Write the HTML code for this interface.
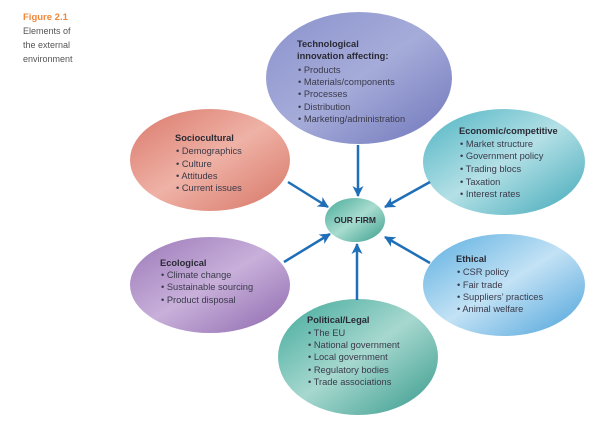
<!DOCTYPE html>
<html><head><meta charset="utf-8"><style>
body{margin:0;background:#fff;}
svg{display:block}
text{font-family:"Liberation Sans",sans-serif;font-size:9.3px;fill:#3a3a4a}
.b{font-weight:bold;fill:#2a2a35}
</style></head><body>
<svg width="602" height="423" viewBox="0 0 602 423" xmlns="http://www.w3.org/2000/svg">
<defs>
<linearGradient id="gt" x1="0" y1="0" x2="1" y2="1"><stop offset="0" stop-color="#8a92cc"/><stop offset="0.5" stop-color="#a6acd9"/><stop offset="1" stop-color="#6e76bb"/></linearGradient>
<linearGradient id="gs" x1="0" y1="0" x2="1" y2="1"><stop offset="0" stop-color="#d9786a"/><stop offset="0.5" stop-color="#efb2a6"/><stop offset="1" stop-color="#d67565"/></linearGradient>
<linearGradient id="ge" x1="0" y1="0" x2="1" y2="1"><stop offset="0" stop-color="#4cb3c2"/><stop offset="0.5" stop-color="#b4e0e6"/><stop offset="1" stop-color="#3fa8b8"/></linearGradient>
<linearGradient id="gc" x1="0" y1="0" x2="1" y2="1"><stop offset="0" stop-color="#9b78b8"/><stop offset="0.5" stop-color="#c8b0da"/><stop offset="1" stop-color="#8e68ae"/></linearGradient>
<linearGradient id="gh" x1="0" y1="0" x2="1" y2="1"><stop offset="0" stop-color="#5aaee0"/><stop offset="0.5" stop-color="#c3e2f5"/><stop offset="1" stop-color="#4ba2da"/></linearGradient>
<linearGradient id="gp" x1="0" y1="0" x2="1" y2="1"><stop offset="0" stop-color="#3fa89a"/><stop offset="0.5" stop-color="#a7d8cf"/><stop offset="1" stop-color="#35998b"/></linearGradient>
<linearGradient id="gf" x1="0" y1="0" x2="1" y2="1"><stop offset="0" stop-color="#45aa98"/><stop offset="0.5" stop-color="#a8dccf"/><stop offset="1" stop-color="#3a9e8c"/></linearGradient>
<marker id="a" markerWidth="11" markerHeight="11" refX="10" refY="5.5" orient="auto" markerUnits="userSpaceOnUse"><path d="M0,0 L11,5.5 L0,11 L3,5.5z" fill="#1f6fb8"/></marker>
</defs>
<text x="23" y="20" style="fill:#f0883a;font-weight:bold;font-size:9.5px">Figure 2.1</text>
<text x="23" y="34" style="font-size:9px;fill:#555">Elements of</text>
<text x="23" y="48" style="font-size:9px;fill:#555">the external</text>
<text x="23" y="62" style="font-size:9px;fill:#555">environment</text>

<ellipse cx="359" cy="78" rx="93" ry="66" fill="url(#gt)"/>
<ellipse cx="210" cy="160" rx="80" ry="51" fill="url(#gs)"/>
<ellipse cx="504" cy="162" rx="81" ry="53" fill="url(#ge)"/>
<ellipse cx="210" cy="285" rx="80" ry="48" fill="url(#gc)"/>
<ellipse cx="504" cy="285" rx="81" ry="51" fill="url(#gh)"/>
<ellipse cx="358" cy="357" rx="80" ry="58" fill="url(#gp)"/>
<ellipse cx="355" cy="220" rx="30" ry="22" fill="url(#gf)"/>

<g stroke="#1f6fb8" stroke-width="2.5" fill="none">
<line x1="358" y1="145" x2="358" y2="196" marker-end="url(#a)"/>
<line x1="288" y1="182" x2="328" y2="207" marker-end="url(#a)"/>
<line x1="430" y1="182" x2="385" y2="207" marker-end="url(#a)"/>
<line x1="284" y1="262" x2="330" y2="234" marker-end="url(#a)"/>
<line x1="430" y1="263" x2="385" y2="237" marker-end="url(#a)"/>
<line x1="357" y1="300" x2="357" y2="244" marker-end="url(#a)"/>
</g>
<text x="355" y="223" text-anchor="middle" class="b" style="font-size:8.5px">OUR FIRM</text>

<text x="297" y="47" class="b">Technological</text>
<text x="297" y="59" class="b">innovation affecting:</text>
<text x="298" y="73">• Products</text>
<text x="298" y="85">• Materials/components</text>
<text x="298" y="97">• Processes</text>
<text x="298" y="110">• Distribution</text>
<text x="298" y="122">• Marketing/administration</text>

<text x="175" y="141" class="b">Sociocultural</text>
<text x="176" y="154">• Demographics</text>
<text x="176" y="167">• Culture</text>
<text x="176" y="179">• Attitudes</text>
<text x="176" y="191">• Current issues</text>

<text x="459" y="134" class="b">Economic/competitive</text>
<text x="460" y="147">• Market structure</text>
<text x="460" y="159">• Government policy</text>
<text x="460" y="172">• Trading blocs</text>
<text x="460" y="185">• Taxation</text>
<text x="460" y="197">• Interest rates</text>

<text x="160" y="266" class="b">Ecological</text>
<text x="161" y="278">• Climate change</text>
<text x="161" y="290">• Sustainable sourcing</text>
<text x="161" y="303">• Product disposal</text>

<text x="456" y="262" class="b">Ethical</text>
<text x="457" y="275">• CSR policy</text>
<text x="457" y="288">• Fair trade</text>
<text x="457" y="300">• Suppliers’ practices</text>
<text x="457" y="312">• Animal welfare</text>

<text x="307" y="323" class="b">Political/Legal</text>
<text x="308" y="336">• The EU</text>
<text x="308" y="348">• National government</text>
<text x="308" y="360">• Local government</text>
<text x="308" y="373">• Regulatory bodies</text>
<text x="308" y="385">• Trade associations</text>
</svg>
</body></html>
